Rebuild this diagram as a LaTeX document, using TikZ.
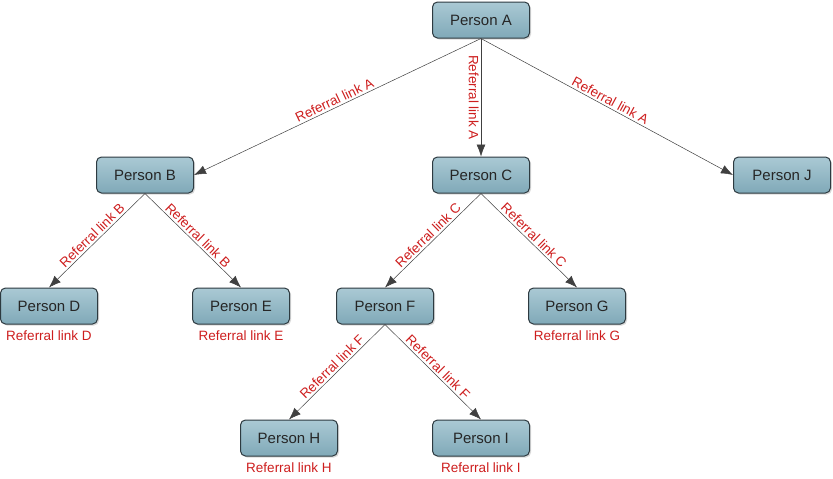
\documentclass[tikz,border=0pt]{standalone}
\usepackage{fontspec}
\setmainfont{Liberation Sans}
\usetikzlibrary{arrows.meta,shadows}
\definecolor{boxtop}{RGB}{170,201,212}
\definecolor{boxbottom}{RGB}{128,169,184}
\definecolor{boxline}{RGB}{45,58,64}
\definecolor{linkred}{RGB}{205,30,30}
\tikzset{
  person/.style={draw=boxline, line width=1pt, rounded corners=5pt,
    top color=boxtop, bottom color=boxbottom,
    drop shadow={shadow xshift=1.5pt, shadow yshift=-1.5pt, opacity=0.3},
    minimum width=97pt, minimum height=36pt, inner sep=0pt,
    font=\fontsize{15}{17}\selectfont, text=black!85},
  linktext/.style={text=linkred, font=\fontsize{13.5}{15}\selectfont, inner sep=2pt},
  sublink/.style={linktext, inner sep=1pt, label distance=5pt},
}
\begin{document}
\begin{tikzpicture}[x=1pt, y=-1pt]
  \useasboundingbox (0,0) rectangle (833,479);
  \path
    (481,20) node[person] (A){Person A}
    (145,175) node[person] (B){Person B}
    (481,175) node[person] (C){Person C}
    (782,175) node[person] (J){Person J}
    (49,306) node[person, label={[sublink]below:Referral link D}] (D){Person D}
    (241,306) node[person, label={[sublink]below:Referral link E}] (E){Person E}
    (385,306) node[person] (F){Person F}
    (577,306) node[person, label={[sublink]below:Referral link G}] (G){Person G}
    (289,438) node[person, label={[sublink]below:Referral link H}] (H){Person H}
    (481,438) node[person, label={[sublink]below:Referral link I}] (I){Person I};
  \begin{scope}[-{Latex[length=12pt,width=9pt]}, draw=black!75, line width=0.5pt]
    \draw (A.south) to node[linktext, midway, sloped, above] {Referral link A} (B.east);
    \draw (A.south) to node[linktext, midway, sloped, below] {Referral link A} (C.north);
    \draw (A.south) to node[linktext, midway, sloped, above] {Referral link A} (J.west);
    \draw (B.south) to node[linktext, midway, sloped, above] {Referral link B} (D.north);
    \draw (B.south) to node[linktext, midway, sloped, above] {Referral link B} (E.north);
    \draw (C.south) to node[linktext, midway, sloped, above] {Referral link C} (F.north);
    \draw (C.south) to node[linktext, midway, sloped, above] {Referral link C} (G.north);
    \draw (F.south) to node[linktext, midway, sloped, above] {Referral link F} (H.north);
    \draw (F.south) to node[linktext, midway, sloped, above] {Referral link F} (I.north);
  \end{scope}
\end{tikzpicture}
\end{document}
